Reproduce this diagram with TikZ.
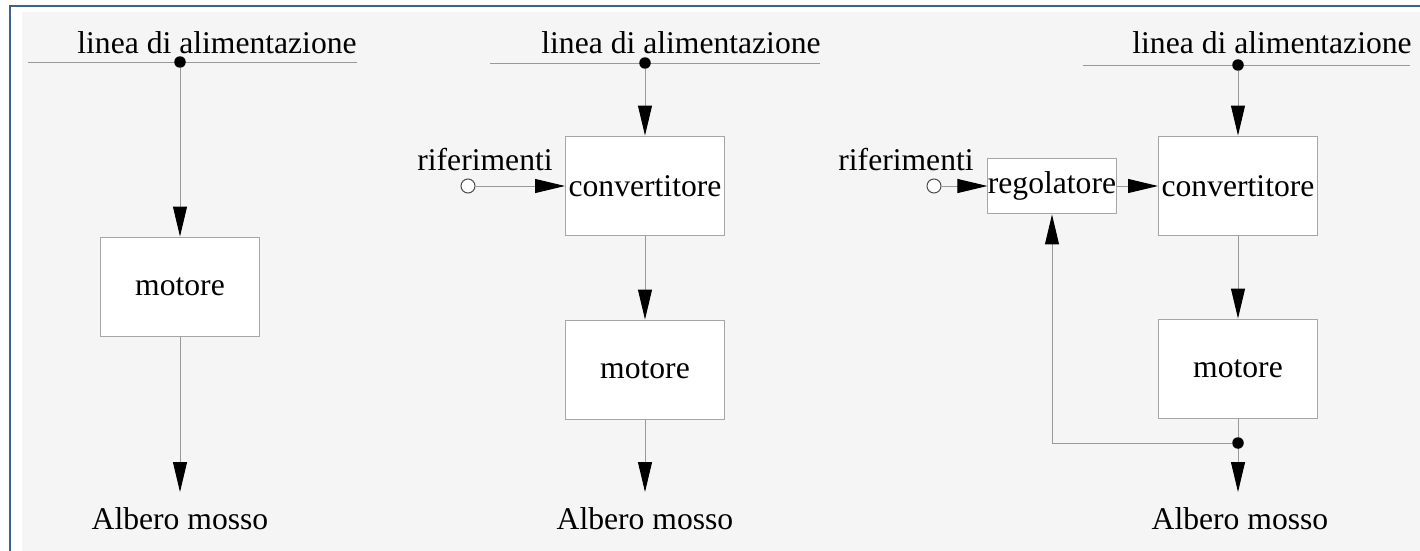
\documentclass[tikz,border=0pt]{standalone}
\usepackage{fontspec}
\setmainfont{Liberation Serif}
\usetikzlibrary{arrows.meta,positioning}
\definecolor{cornice}{RGB}{63,95,143}
\definecolor{sfondo}{RGB}{245,245,245}

\begin{document}
\begin{tikzpicture}[
    x=0.02cm, y=-0.02cm,
    every node/.style={font=\fontsize{18}{20}\selectfont, inner sep=0pt},
    blocco/.style={draw=black!35, fill=white, line width=0.02cm, minimum width=3.18cm, minimum height=2cm},
    piccolo/.style={blocco, minimum width=2.44cm, minimum height=1.12cm},
    filo/.style={draw=black!40, line width=0.02cm},
    freccia/.style={filo, -{Triangle[length=0.6cm, width=0.28cm, color=black]}},
    punto/.style={circle, fill=black, minimum size=0.23cm},
    morsetto/.style={circle, draw=black!70, fill=white, line width=0.02cm, minimum size=0.28cm},
    etichetta/.style={anchor=base}
]
\useasboundingbox (0,0) rectangle (1420,551);

% cornice e sfondo
\fill[white] (0,0) rectangle (1420,551);
\fill[sfondo] (22,12) rectangle (1420,551);
\draw[cornice, line width=0.04cm] (10,551) -- (10,6) -- (1420,6);

% schema 1: motore alimentato direttamente
\node[etichetta] (linea1) at (217,53) {linea di alimentazione};
\coordinate (sx1) at (28,62);
\coordinate (dx1) at (357,62);
\draw[filo] (sx1) -- (dx1);
\node[punto] (nodo1) at (180,62) {};
\node[blocco] (motore1) at (180,287) {motore};
\coordinate (uscita1) at (180,492);
\node[etichetta] (albero1) at (180,529) {Albero mosso};
\draw[freccia] (nodo1) -- (motore1);
\draw[freccia] (motore1) -- (uscita1);

% schema 2: convertitore ad anello aperto
\node[etichetta] (linea2) at (681,53) {linea di alimentazione};
\coordinate (sx2) at (490,63);
\coordinate (dx2) at (820,63);
\draw[filo] (sx2) -- (dx2);
\node[punto] (nodo2) at (645,63) {};
\node[blocco] (conv2) at (645,186) {convertitore};
\node[blocco] (motore2) at (645,370) {motore};
\coordinate (uscita2) at (645,492);
\node[etichetta] (albero2) at (645,529) {Albero mosso};
\node[etichetta] (rif2) at (485,170) {riferimenti};
\node[morsetto] (ingr2) at (468,186) {};
\draw[freccia] (nodo2) -- (conv2);
\draw[freccia] (ingr2) -- (conv2);
\draw[freccia] (conv2) -- (motore2);
\draw[freccia] (motore2) -- (uscita2);

% schema 3: convertitore con regolatore in retroazione
\node[etichetta] (linea3) at (1272,53) {linea di alimentazione};
\coordinate (sx3) at (1083,65);
\coordinate (dx3) at (1410,65);
\draw[filo] (sx3) -- (dx3);
\node[punto] (nodo3) at (1238,65) {};
\node[blocco] (conv3) at (1238,186) {convertitore};
\node[blocco] (motore3) at (1238,369) {motore};
\node[piccolo] (reg3) at (1052,186) {regolatore};
\node[etichetta] (rif3) at (906,170) {riferimenti};
\node[morsetto] (ingr3) at (934,186) {};
\coordinate (uscita3) at (1238,492);
\node[etichetta] (albero3) at (1240,529) {Albero mosso};
\draw[freccia] (nodo3) -- (conv3);
\draw[freccia] (ingr3) -- (reg3);
\draw[freccia] (reg3) -- (conv3);
\draw[freccia] (conv3) -- (motore3);
\draw[freccia] (motore3) -- (uscita3);
\node[punto] (misura3) at (1238,443) {};
\draw[freccia] (misura3) -| (reg3);

\end{tikzpicture}
\end{document}
